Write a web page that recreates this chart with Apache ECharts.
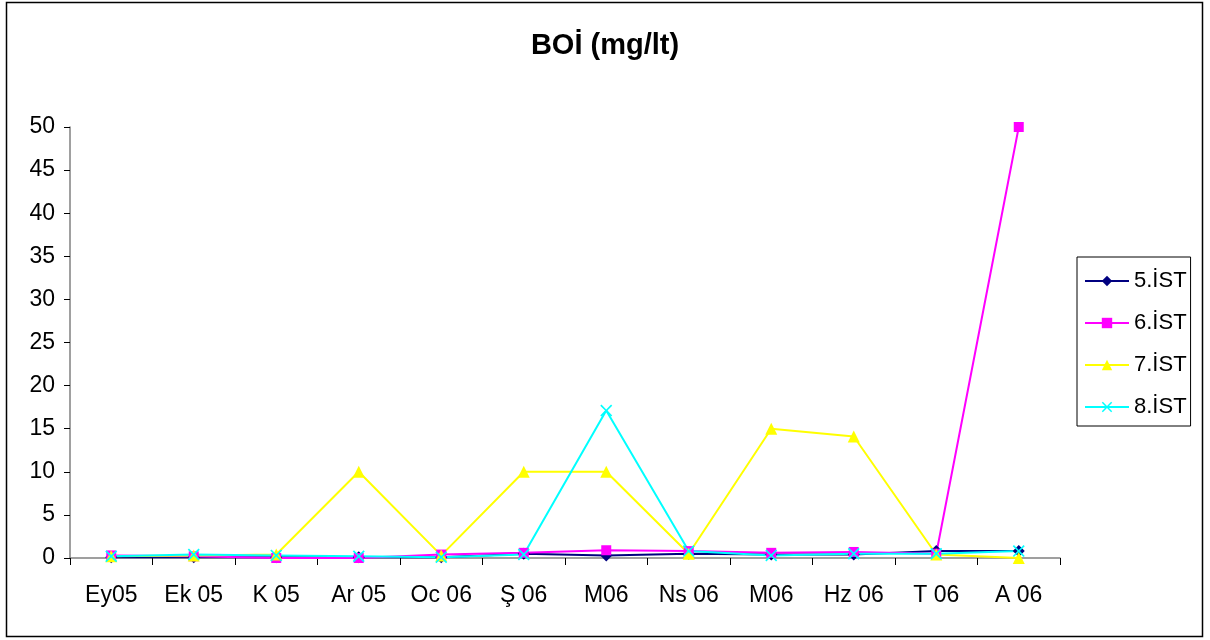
<!DOCTYPE html>
<html><head><meta charset="utf-8">
<script src="https://cdn.jsdelivr.net/npm/echarts@6/dist/echarts.min.js"></script>
<style>html,body{margin:0;padding:0;background:#fff}#c{width:1210px;height:640px}</style>
</head><body><div id="c"></div>
<script>
const categories = ["Ey05","Ek 05","K 05","Ar 05","Oc 06","Ş 06","M06","Ns 06","M06","Hz 06","T 06","A 06"];
const ist5 = [0.1,0.1,0.1,0.1,0.1,0.5,0.3,0.5,0.4,0.4,0.8,0.8];
const ist6 = [0.3,0.2,0.0,0.0,0.4,0.6,0.9,0.8,0.6,0.7,0.5,50];
const ist7 = [0.2,0.3,0.4,10,0.3,10,10,0.5,15,14.1,0.4,0.0];
const ist8 = [0.2,0.4,0.3,0.2,0.1,0.4,17.1,0.8,0.3,0.5,0.5,0.8];
const yTicks = [0,5,10,15,20,25,30,35,40,45,50];

const font = '"Liberation Sans", Arial, sans-serif';
const crossPath = 'path://M0,1 L1,0 L5,4 L9,0 L10,1 L6,5 L10,9 L9,10 L5,6 L1,10 L0,9 L4,5 Z';

const chart = echarts.init(document.getElementById('c'), null, {renderer:'canvas'});
function mk(name, data, color, symbol, size){
  return {name, type:'line', data, symbol, symbolSize:size, showAllSymbol:true,
    lineStyle:{color, width:2}, itemStyle:{color}, emphasis:{disabled:true}, animation:false};
}
chart.setOption({
  animation:false,
  textStyle:{fontFamily:font},
  title:{text:'BOİ (mg/lt)', left:'center', top:26,
    textStyle:{fontFamily:font, fontSize:29, fontWeight:'bold', color:'#000'}},
  graphic:[{type:'rect', shape:{x:6.5,y:2.5,width:1196,height:634}, style:{fill:'none', stroke:'#000', lineWidth:1.5}, silent:true}],
  grid:{left:70, right:150, top:127, bottom:82},
  xAxis:{type:'category', data:categories, boundaryGap:true,
    axisLine:{lineStyle:{color:'#808080', width:1.5}},
    axisTick:{show:true, inside:false, length:7, lineStyle:{color:'#000'}},
    axisLabel:{color:'#000', fontSize:23, fontFamily:font, margin:26, interval:0},
    splitLine:{show:false}},
  yAxis:{type:'value', min:0, max:50, interval:5,
    axisLine:{show:true, lineStyle:{color:'#808080', width:1.5}},
    axisTick:{show:true, length:6, lineStyle:{color:'#000'}},
    axisLabel:{color:'#000', fontSize:23, fontFamily:font, margin:15,
      formatter:function(v){return yTicks.indexOf(v)>=0 ? String(v) : '';}},
    splitLine:{show:false}},
  legend:{orient:'vertical', left:1077, top:257, width:116,
    backgroundColor:'#fff', borderColor:'#000', borderWidth:1,
    padding:[13,4,8,7], itemGap:20, itemWidth:44, itemHeight:13,
    textStyle:{fontSize:22, fontFamily:font, color:'#000', padding:[0,0,0,0]},
    data:['5.İST','6.İST','7.İST','8.İST']},
  series:[
    mk('5.İST', ist5, '#000080', 'diamond', 12),
    mk('6.İST', ist6, '#ff00ff', 'rect', 10),
    mk('7.İST', ist7, '#ffff00', 'triangle', 12),
    mk('8.İST', ist8, '#00ffff', crossPath, 12)
  ]
});
</script></body></html>
